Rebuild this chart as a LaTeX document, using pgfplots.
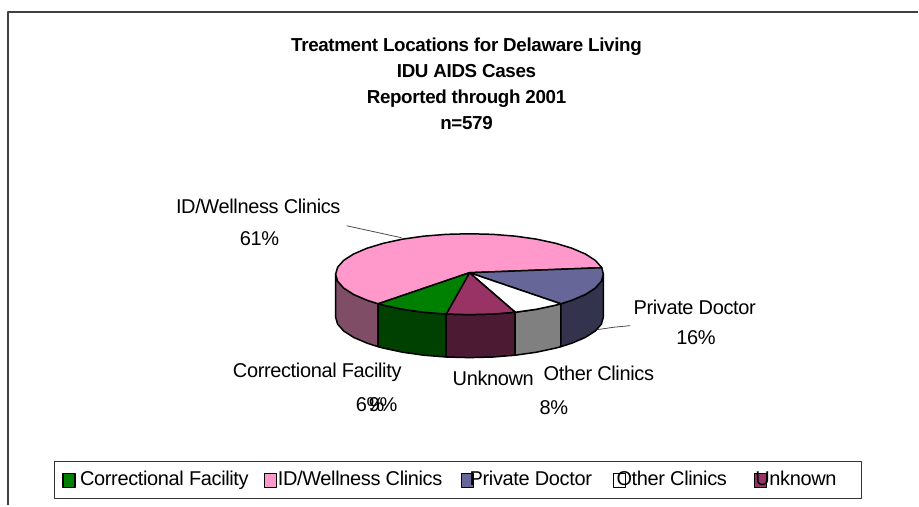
\documentclass[border=0pt]{standalone}
\usepackage{pgfplots}
\pgfplotsset{compat=1.18}
\usepackage{fontspec}
\setmainfont[LetterSpace=-1.8]{Liberation Sans}
\definecolor{cPink}{HTML}{FF99CC}
\definecolor{cGreen}{HTML}{008000}
\definecolor{cMaroon}{HTML}{993366}
\definecolor{cBlue}{HTML}{666699}
\definecolor{sPink}{HTML}{804D66}
\definecolor{sGreen}{HTML}{004000}
\definecolor{sMaroon}{HTML}{4D1A33}
\definecolor{sBlue}{HTML}{33334D}
\definecolor{sGray}{HTML}{808080}
\newcommand{\lab}[3]{\node[anchor=base west,inner sep=0pt,font=\fontsize{20}{20}\selectfont] at (axis cs:#1,#2) {#3};}
\newcommand{\ttl}[2]{\node[anchor=base,inner sep=0pt,font=\fontsize{18.8}{18.8}\selectfont\bfseries] at (axis cs:467,#1) {#2};}
\begin{document}
\begin{tikzpicture}
\begin{axis}[
  hide axis, scale only axis, width=919pt, height=506pt,
  xmin=0, xmax=919, ymin=0, ymax=506, y dir=reverse, clip=false,
  every axis plot/.append style={line join=round}]
% frame
\addplot[draw=white, line width=0pt] coordinates {(0,0)(919,506)};
\addplot[draw=black!75, line width=2pt] coordinates {(8,506)(8,12)(919,12)};
% leaders
\addplot[draw=black!70, line width=0.8pt] coordinates {(347,226)(402,238)};
\addplot[draw=black!70, line width=0.8pt] coordinates {(598,330)(615,327.5)(631,326)};
% side faces
\addplot[fill=sPink, draw=black, line width=1.5pt] coordinates {(336,274.5)(338,281.5)(344.1,288.4)(354,294.75)(367.4,300.5)(378.6,304.1)(378.6,347.1)(367.4,343.5)(354,337.75)(344.1,331.4)(338,324.5)(336,317.5)} -- cycle;
\addplot[fill=sGreen, draw=black, line width=1.5pt] coordinates {(378.6,304.1)(383.9,305.5)(403,309.6)(424.2,312.6)(446.7,314.4)(446.7,357.4)(424.2,355.6)(403,352.6)(383.9,348.5)(378.6,347.1)} -- cycle;
\addplot[fill=sMaroon, draw=black, line width=1.5pt] coordinates {(446.7,314.4)(470,315)(493.3,314.4)(515.8,312.6)(515.8,355.6)(493.3,357.4)(470,358)(446.7,357.4)} -- cycle;
\addplot[fill=sGray, draw=black, line width=1.5pt] coordinates {(515.8,312.6)(537,309.6)(556.1,305.5)(561.4,304.1)(561.4,347.1)(556.1,348.5)(537,352.6)(515.8,355.6)} -- cycle;
\addplot[fill=sBlue, draw=black, line width=1.5pt] coordinates {(561.4,304.1)(572.6,300.5)(586,294.75)(595.9,288.4)(602,281.5)(604,274.5)(604,317.5)(602,324.5)(595.9,331.4)(586,337.75)(572.6,343.5)(561.4,347.1)} -- cycle;
% top faces
\addplot[fill=cPink, draw=black, line width=1.5pt] coordinates {(470,273)(378.6,304.1)(367.4,300.5)(354,294.75)(344.1,288.4)(338,281.5)(336,274.5)(338,267.5)(344.1,260.6)(354,254.25)(367.4,248.5)(383.9,243.5)(403,239.4)(424.2,236.4)(446.7,234.6)(470,234)(493.3,234.6)(515.8,236.4)(537,239.4)(556.1,243.5)(572.6,248.5)(586,254.25)(595.9,260.6)(602.5,268)} -- cycle;
\addplot[fill=cBlue, draw=black, line width=1.5pt] coordinates {(470,273)(602.5,268)(604,274.5)(602,281.5)(595.9,288.4)(586,294.75)(572.6,300.5)(561.4,304.1)} -- cycle;
\addplot[fill=white, draw=black, line width=1.5pt] coordinates {(470,273)(561.4,304.1)(556.1,305.5)(537,309.6)(515.8,312.6)} -- cycle;
\addplot[fill=cMaroon, draw=black, line width=1.5pt] coordinates {(470,273)(515.8,312.6)(493.3,314.4)(470,315)(446.7,314.4)} -- cycle;
\addplot[fill=cGreen, draw=black, line width=1.5pt] coordinates {(470,273)(446.7,314.4)(424.2,312.6)(403,309.6)(383.9,305.5)(378.6,304.1)} -- cycle;
% legend box and swatches
\addplot[fill=white, draw=black!80, line width=0.9pt] coordinates {(55,462)(862,462)(862,499)(55,499)} -- cycle;
\addplot[fill=cGreen, draw=black, line width=1.2pt] coordinates {(63,474)(75,474)(75,488)(63,488)} -- cycle;
\addplot[fill=cPink, draw=black, line width=1.2pt] coordinates {(265,474)(277,474)(277,488)(265,488)} -- cycle;
\addplot[fill=cBlue, draw=black, line width=1.2pt] coordinates {(462,474)(474,474)(474,488)(462,488)} -- cycle;
\addplot[fill=white, draw=black, line width=1.2pt] coordinates {(614,474)(626,474)(626,488)(614,488)} -- cycle;
\addplot[fill=cMaroon, draw=black, line width=1.2pt] coordinates {(755,474)(767,474)(767,488)(755,488)} -- cycle;
% titles
\ttl{52}{Treatment Locations for Delaware Living}
\ttl{78}{IDU AIDS Cases}
\ttl{104}{Reported through 2001}
\ttl{130}{n=579}
% data labels
\lab{176}{214}{ID/Wellness Clinics}
\lab{240}{246}{61\%}
\lab{634}{315}{Private Doctor}
\lab{677}{345}{16\%}
\lab{233}{378}{Correctional Facility}
\lab{356}{412}{6\%}
\lab{369}{412}{9\%}
\lab{453}{386}{Unknown}
\lab{544}{381}{Other Clinics}
\lab{540}{415}{8\%}
% legend texts
\lab{80}{486}{Correctional Facility}
\lab{278}{486}{ID/Wellness Clinics}
\lab{470}{486}{Private Doctor}
\lab{617}{486}{Other Clinics}
\lab{756}{486}{Unknown}
\end{axis}
\end{tikzpicture}
\end{document}
